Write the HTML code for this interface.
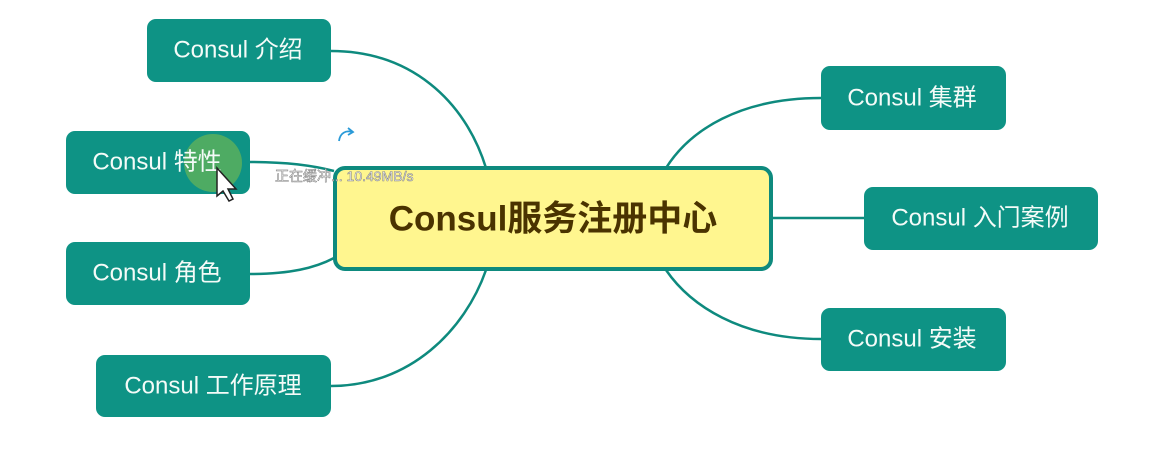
<!DOCTYPE html>
<html><head><meta charset="utf-8"><style>
html,body{margin:0;padding:0;background:#fff;}
svg{display:block}
.n{fill:#0e9385;}
.t{font-family:"Liberation Sans","Noto Sans CJK SC",sans-serif;font-size:24px;fill:#f4fbf8;dominant-baseline:central;text-anchor:middle;}
path.c{fill:none;stroke:#0e8a7e;stroke-width:2.5;}
</style></head><body>
<svg width="1157" height="465" viewBox="0 0 1157 465">
<path class="c" d="M331,51 C410,51 465,100 486,168"/>
<path class="c" d="M250,162 C290,162 315,166 334,171"/>
<path class="c" d="M250,274 C290,274 315,268 334,258"/>
<path class="c" d="M331,386 C410,386 465,330 486,270"/>
<path class="c" d="M821,98 C740,98 690,130 666,168"/>
<path class="c" d="M772,218 L864,218"/>
<path class="c" d="M821,339 C740,339 690,305 666,270"/>
<rect class="n" x="147" y="19" width="184" height="63" rx="9"/>
<text class="t" x="238" y="50">Consul 介绍</text>
<rect class="n" x="66" y="131" width="184" height="63" rx="9"/>
<circle cx="213" cy="163" r="29" fill="#5fb15a" opacity="0.8"/>
<text class="t" x="157" y="162">Consul 特性</text>
<path d="M217,168 L217,196 L223,191 L229,201 L233,199 L228,189 L236,189 Z" fill="#fff" stroke="#222" stroke-width="1.5"/>
<rect class="n" x="66" y="242" width="184" height="63" rx="9"/>
<text class="t" x="157" y="273">Consul 角色</text>
<rect class="n" x="96" y="355" width="235" height="62" rx="9"/>
<text class="t" x="213" y="386">Consul 工作原理</text>
<rect class="n" x="821" y="66" width="185" height="64" rx="9"/>
<text class="t" x="912" y="98">Consul 集群</text>
<rect class="n" x="864" y="187" width="234" height="63" rx="9"/>
<text class="t" x="980" y="218">Consul 入门案例</text>
<rect class="n" x="821" y="308" width="185" height="63" rx="9"/>
<text class="t" x="912" y="339">Consul 安装</text>
<rect x="335" y="168" width="436" height="101" rx="10" fill="#fff68f" stroke="#0e8a7e" stroke-width="4"/>
<text x="553" y="219" font-family="Liberation Sans,'Noto Sans CJK SC',sans-serif" font-size="35" font-weight="bold" fill="#4a3300" text-anchor="middle" dominant-baseline="central">Consul服务注册中心</text>
<path d="M339,141 C340,133 346,130 352,132 M348,128 L353,132 L348,135" fill="none" stroke="#2a9ad8" stroke-width="1.8"/>
<text x="275" y="181" font-family="Liberation Sans,'Noto Sans CJK SC',sans-serif" font-size="14" fill="#fff" stroke="#888" stroke-width="0.6">正在缓冲... 10.49MB/s</text>
</svg>
</body></html>
